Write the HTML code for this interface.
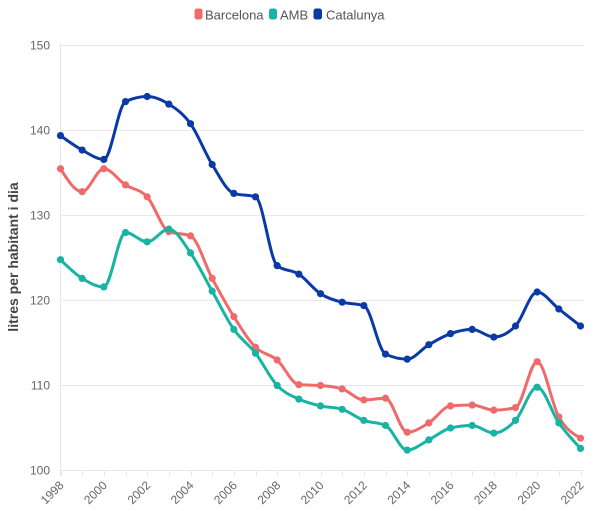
<!DOCTYPE html>
<html>
<head>
<meta charset="utf-8">
<style>
  html,body{margin:0;padding:0;background:#fff;}
  svg{display:block;}
  text{font-family:"Liberation Sans", Arial, sans-serif;}
</style>
</head>
<body>
<svg id="chart" width="600" height="511" viewBox="0 0 600 511" xmlns="http://www.w3.org/2000/svg">
  <rect x="0" y="0" width="600" height="511" fill="#ffffff"/>
  <!-- Legend -->
  <rect x="194.5" y="8.5" width="8" height="11" rx="2.5" fill="#ef6b6b"/>
  <text x="205" y="19.5" font-size="13" fill="#555">Barcelona</text>
  <rect x="269" y="8.5" width="8" height="11" rx="2.5" fill="#17b3a3"/>
  <text x="280" y="19.5" font-size="13" fill="#555">AMB</text>
  <rect x="313.5" y="8.5" width="8.5" height="11" rx="2.5" fill="#0a3aa6"/>
  <text x="326" y="19.5" font-size="13" fill="#555">Catalunya</text>

  <!-- Grid lines -->
  <g stroke="#e8e8e8" stroke-width="1" fill="none">
    <line x1="60.5" y1="45.5" x2="585" y2="45.5"/>
    <line x1="60.5" y1="130.5" x2="585" y2="130.5"/>
    <line x1="60.5" y1="215.5" x2="585" y2="215.5"/>
    <line x1="60.5" y1="300.5" x2="585" y2="300.5"/>
    <line x1="60.5" y1="385.5" x2="585" y2="385.5"/>
    <line x1="60.5" y1="470.5" x2="585" y2="470.5"/>
    <line x1="60.5" y1="43" x2="60.5" y2="476"/>
  </g>
  <g id="ticks" stroke="#e6e6e6" stroke-width="1"></g>

  <!-- Y labels -->
  <g font-size="12" fill="#666" text-anchor="end">
    <text x="50" y="49.5">150</text>
    <text x="50" y="134.5">140</text>
    <text x="50" y="219.5">130</text>
    <text x="50" y="304.5">120</text>
    <text x="50" y="389.5">110</text>
    <text x="50" y="474.5">100</text>
  </g>

  <!-- Y title -->
  <text transform="translate(18,257) rotate(-90)" text-anchor="middle" font-size="14" font-weight="bold" fill="#444">litres per habitant i dia</text>

  <!-- X labels -->
  <g font-size="12" fill="#666" text-anchor="end">
    <text transform="translate(64.5,486) rotate(-45)">1998</text>
    <text transform="translate(107.8,486) rotate(-45)">2000</text>
    <text transform="translate(151.2,486) rotate(-45)">2002</text>
    <text transform="translate(194.5,486) rotate(-45)">2004</text>
    <text transform="translate(237.8,486) rotate(-45)">2006</text>
    <text transform="translate(281.2,486) rotate(-45)">2008</text>
    <text transform="translate(324.5,486) rotate(-45)">2010</text>
    <text transform="translate(367.8,486) rotate(-45)">2012</text>
    <text transform="translate(411.2,486) rotate(-45)">2014</text>
    <text transform="translate(454.5,486) rotate(-45)">2016</text>
    <text transform="translate(497.8,486) rotate(-45)">2018</text>
    <text transform="translate(541.2,486) rotate(-45)">2020</text>
    <text transform="translate(584.5,486) rotate(-45)">2022</text>
  </g>

  <g id="series"></g>
</svg>
<script>
(function(){
  var NS="http://www.w3.org/2000/svg";
  function X(i){return 60.5+i*21.6667;}
  function Y(v){return 470.5-(v-100)*8.5;}
  var ticks=document.getElementById('ticks');
  for(var i=0;i<=24;i++){
    var l=document.createElementNS(NS,'line');
    var x=Math.round(X(i))+0.5;
    l.setAttribute('x1',x);l.setAttribute('x2',x);
    l.setAttribute('y1',470.5);l.setAttribute('y2',476);
    ticks.appendChild(l);
  }
  var series=[
    {c:'#ef6b6b',d:[135.5,132.8,135.5,133.6,132.2,128.1,127.6,122.6,118.1,114.5,113.0,110.1,110.0,109.6,108.3,108.5,104.5,105.6,107.6,107.7,107.1,107.4,112.8,106.3,103.8]},
    {c:'#17b3a3',d:[124.8,122.6,121.6,128.0,126.9,128.4,125.6,121.1,116.6,113.8,110.0,108.4,107.6,107.2,105.9,105.3,102.4,103.6,105.0,105.3,104.4,105.9,109.8,105.6,102.6]},
    {c:'#0a3aa6',d:[139.4,137.7,136.6,143.4,144.0,143.1,140.8,136.0,132.6,132.2,124.1,123.1,120.8,119.8,119.4,113.7,113.1,114.8,116.1,116.6,115.7,117.0,121.0,119.0,117.0]}
  ];
  function sgn(x){return x<0?-1:1;}
  var g=document.getElementById('series');
  series.forEach(function(s){
    var p=s.d.map(function(v,i){return [X(i),Y(v)];});
    var n=p.length, m=new Array(n);
    for(var i=1;i<n-1;i++){
      var h0=p[i][0]-p[i-1][0], h1=p[i+1][0]-p[i][0];
      var s0=(p[i][1]-p[i-1][1])/h0, s1=(p[i+1][1]-p[i][1])/h1;
      var pp=(s0*h1+s1*h0)/(h0+h1);
      m[i]=(sgn(s0)+sgn(s1))*Math.min(Math.abs(s0),Math.abs(s1),0.5*Math.abs(pp))||0;
    }
    var hA=p[1][0]-p[0][0];
    m[0]=(3*(p[1][1]-p[0][1])/hA-m[1])/2;
    var hB=p[n-1][0]-p[n-2][0];
    m[n-1]=(3*(p[n-1][1]-p[n-2][1])/hB-m[n-2])/2;
    var d='M'+p[0][0].toFixed(2)+','+p[0][1].toFixed(2);
    for(var i=1;i<n;i++){
      var dx=(p[i][0]-p[i-1][0])/3;
      d+=' C'+(p[i-1][0]+dx).toFixed(2)+','+(p[i-1][1]+dx*m[i-1]).toFixed(2)+' '+(p[i][0]-dx).toFixed(2)+','+(p[i][1]-dx*m[i]).toFixed(2)+' '+p[i][0].toFixed(2)+','+p[i][1].toFixed(2);
    }
    var path=document.createElementNS(NS,'path');
    path.setAttribute('d',d);path.setAttribute('fill','none');
    path.setAttribute('stroke',s.c);path.setAttribute('stroke-width','3');
    path.setAttribute('stroke-linejoin','round');path.setAttribute('stroke-linecap','round');
    g.appendChild(path);
    p.forEach(function(pt){
      var c=document.createElementNS(NS,'circle');
      c.setAttribute('cx',pt[0]);c.setAttribute('cy',pt[1]);c.setAttribute('r','3.6');
      c.setAttribute('fill',s.c);
      g.appendChild(c);
    });
  });
})();
</script>
</body>
</html>
